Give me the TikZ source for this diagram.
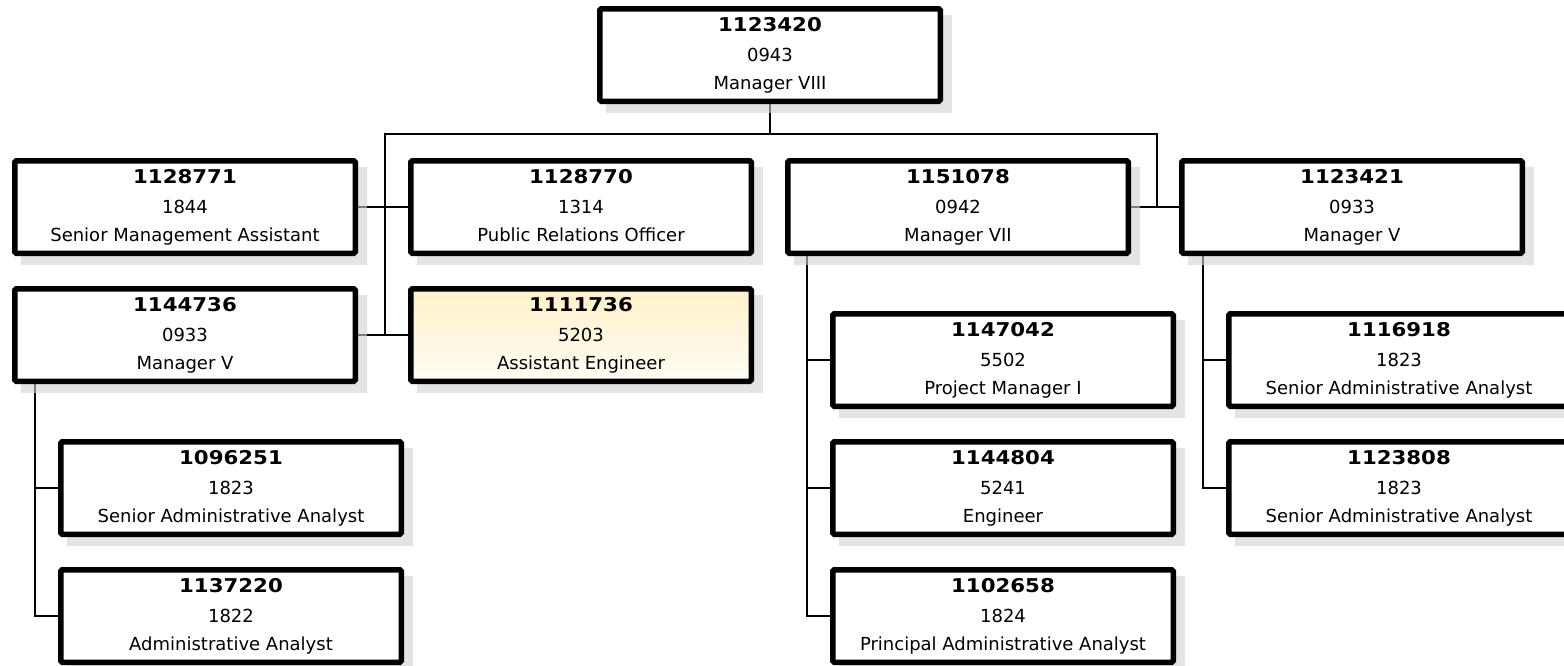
\documentclass[tikz,border=0pt]{standalone}
\usepackage{fontspec}
\setmainfont{DejaVu Sans}
\usepackage{graphicx}
\usetikzlibrary{calc}
\pgfdeclarelayer{conn}
\pgfdeclarelayer{shad}
\pgfsetlayers{conn,shad,main}
\definecolor{shadowgray}{RGB}{210,210,210}
\definecolor{hitop}{RGB}{255,240,200}
\definecolor{hibot}{RGB}{255,253,246}
\tikzset{
  orgbox/.style={draw=black, line width=5.5pt, fill=white, rounded corners=1.5pt,
    minimum width=340.5pt, minimum height=92.5pt, inner sep=0pt},
  hilite/.style={top color=hitop, bottom color=hibot},
  connector/.style={draw=black, line width=2pt},
  shadowbox/.style={fill=shadowgray, fill opacity=0.6},
  idtext/.style={anchor=base, inner sep=0pt, font=\fontsize{19}{19}\selectfont\bfseries},
  bodytext/.style={anchor=base, inner sep=0pt, font=\fontsize{18}{18}\selectfont},
}
% #1 extra style, #2 name, #3 x, #4 y (outer top-left, px), #5 id, #6 code, #7 title
\newcommand\obox[7][]{%
  \node[orgbox,#1] (#2) at ({#3+173},{#4+49}) {};
  \begin{pgfonlayer}{shad}
    \fill[shadowbox] ($(#2.north west)+(8.5,8.5)$) rectangle ($(#2.south east)+(8.5,8.5)$);
  \end{pgfonlayer}
  \node[idtext] (#2-id) at ({#3+173},{#4+25}) {\scalebox{1.12}[1]{#5}};
  \node[bodytext] (#2-code) at ({#3+173},{#4+55}) {#6};
  \node[bodytext] (#2-title) at ({#3+173},{#4+83.5}) {#7};
}
\begin{document}
\begin{tikzpicture}[x=1pt,y=-1pt]
\useasboundingbox (0,0) rectangle (1564,665);
\obox{n0}{597}{6}{1123420}{0943}{Manager VIII}
\obox{a1}{12}{158}{1128771}{1844}{Senior Management Assistant}
\obox{a2}{408}{158}{1128770}{1314}{Public Relations Officer}
\obox{c1}{785}{158}{1151078}{0942}{Manager VII}
\obox{c2}{1179}{158}{1123421}{0933}{Manager V}
\obox{b1}{12}{286}{1144736}{0933}{Manager V}
\obox[hilite]{b2}{408}{286}{1111736}{5203}{Assistant Engineer}
\obox{d1}{58}{439}{1096251}{1823}{Senior Administrative Analyst}
\obox{d2}{58}{567}{1137220}{1822}{Administrative Analyst}
\obox{e1}{830}{311}{1147042}{5502}{Project Manager I}
\obox{e2}{830}{439}{1144804}{5241}{Engineer}
\obox{e3}{830}{567}{1102658}{1824}{Principal Administrative Analyst}
\obox{f1}{1226}{311}{1116918}{1823}{Senior Administrative Analyst}
\obox{f2}{1226}{439}{1123808}{1823}{Senior Administrative Analyst}
\begin{pgfonlayer}{conn}
  \coordinate (jl) at (385,134);
  \coordinate (jr) at (1157,134);
  \coordinate (xl) at (35,0);
  \coordinate (xm) at (807,0);
  \coordinate (xr) at (1203,0);
  \draw[connector] (n0.south) -- (n0.south |- jl);
  \draw[connector] (jl |- b1.east) -- (jl) -- (jr) -- (jr |- c1.east);
  \draw[connector] (a1.east) -- (a2.west);
  \draw[connector] (b1.east) -- (b2.west);
  \draw[connector] (c1.east) -- (c2.west);
  \draw[connector] (xl |- b1.south) -- (xl |- d2.west) -- (d2.west);
  \draw[connector] (xl |- d1.west) -- (d1.west);
  \draw[connector] (xm |- c1.south) -- (xm |- e3.west) -- (e3.west);
  \draw[connector] (xm |- e1.west) -- (e1.west);
  \draw[connector] (xm |- e2.west) -- (e2.west);
  \draw[connector] (xr |- c2.south) -- (xr |- f2.west) -- (f2.west);
  \draw[connector] (xr |- f1.west) -- (f1.west);
\end{pgfonlayer}
\end{tikzpicture}
\end{document}
